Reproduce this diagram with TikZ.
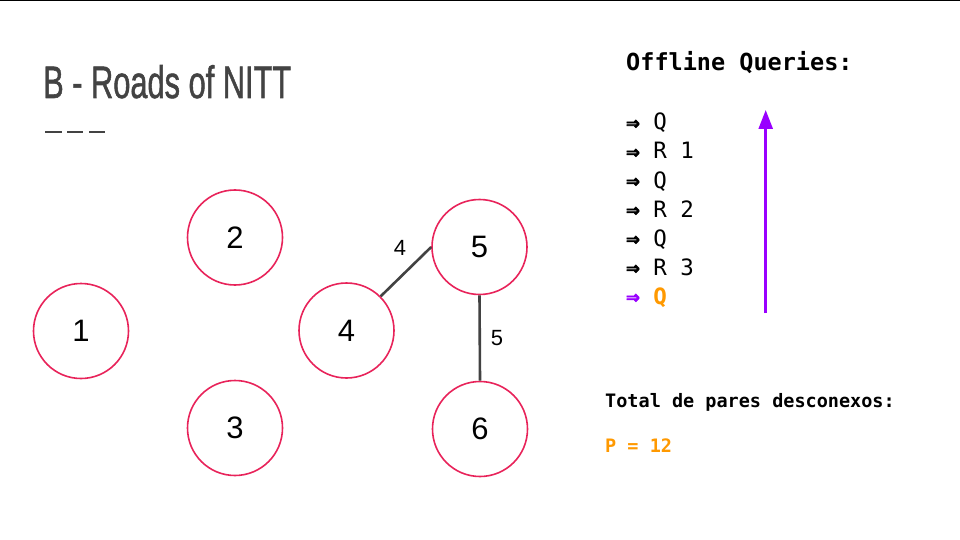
\documentclass[tikz,border=0pt]{standalone}
\usepackage{fontspec}
\setmainfont{Liberation Sans}
\newfontfamily\monof{DejaVu Sans Mono}
\newfontfamily\arrowf[FakeBold=2.5]{DejaVu Sans Mono}
\newfontfamily\titlef[FakeBold=1.3]{Liberation Sans}
\usetikzlibrary{arrows.meta}
\definecolor{crim}{HTML}{E8235A}
\definecolor{titlegray}{HTML}{434343}
\definecolor{edgegray}{HTML}{424242}
\definecolor{purp}{HTML}{9900FF}
\definecolor{orng}{HTML}{FF9900}
\newcommand{\darr}{{\arrowf\bfseries ⇒}}
\tikzset{
  vertex/.style={circle, draw=crim, line width=1.6pt, minimum size=95pt, inner sep=0pt, font=\fontsize{31}{31}\selectfont},
  road/.style={draw=edgegray, line width=2.6pt},
  wlabel/.style={font=\fontsize{22}{22}\selectfont},
  mono/.style={anchor=base west, inner sep=0pt, font=\monof\fontsize{22.5}{22.5}\selectfont},
  monosmall/.style={anchor=base west, inner sep=0pt, font=\monof\bfseries\fontsize{18.5}{18.5}\selectfont},
  dashmark/.style={draw=titlegray, line width=1.6pt}
}
\begin{document}
\begin{tikzpicture}[x=1pt,y=-1pt]
\useasboundingbox (0,0) rectangle (960,540);
\fill[white] (0,0) rectangle (960,540);
\draw[black, line width=1.5pt] (0,0.5) -- (960,0.5);
% title
\node[anchor=base west, inner sep=0pt, text=titlegray] (title) at (43,98) {\resizebox{248pt}{33pt}{\titlef B - Roads of NITT}};
\coordinate (d1a) at (45,132); \coordinate (d1b) at (62,132);
\coordinate (d2a) at (67,132); \coordinate (d2b) at (83,132);
\coordinate (d3a) at (89,132); \coordinate (d3b) at (105,132);
\draw[dashmark] (d1a) -- (d1b);
\draw[dashmark] (d2a) -- (d2b);
\draw[dashmark] (d3a) -- (d3b);
% graph
\node[vertex] (n1) at (81,331) {1};
\node[vertex] (n2) at (235,237.5) {2};
\node[vertex] (n3) at (235,428) {3};
\node[vertex] (n4) at (346.5,330.5) {4};
\node[vertex] (n5) at (479.5,247) {5};
\node[vertex] (n6) at (480,429) {6};
\draw[road] (n4.45) -- (n5.180);
\draw[road] (n5.south) -- (n6.north);
\node[wlabel] (w45) at (400,248) {4};
\node[wlabel] (w56) at (497,338) {5};
% queries
\node[mono, font=\monof\bfseries\fontsize{23.5}{23.5}\selectfont] (oq) at (626,71) {Offline Queries:};
\node[mono] (q1) at (626,130) {\darr{} Q};
\node[mono] (q2) at (626,159) {\darr{} R 1};
\node[mono] (q3) at (626,188) {\darr{} Q};
\node[mono] (q4) at (626,217) {\darr{} R 2};
\node[mono] (q5) at (626,246) {\darr{} Q};
\node[mono] (q6) at (626,275) {\darr{} R 3};
\node[mono] (q7) at (626,304) {\textcolor{purp}{\darr} \textcolor{orng}{\textbf{Q}}};
\coordinate (abot) at (765.7,313);
\coordinate (atop) at (765.7,110);
\draw[purp, line width=2.6pt, -{Triangle[length=19pt,width=14pt]}] (abot) -- (atop);
% total
\node[monosmall] (tot) at (605,407) {Total de pares desconexos:};
\node[monosmall, text=orng] (pv) at (605,452) {P = 12};
\end{tikzpicture}
\end{document}
